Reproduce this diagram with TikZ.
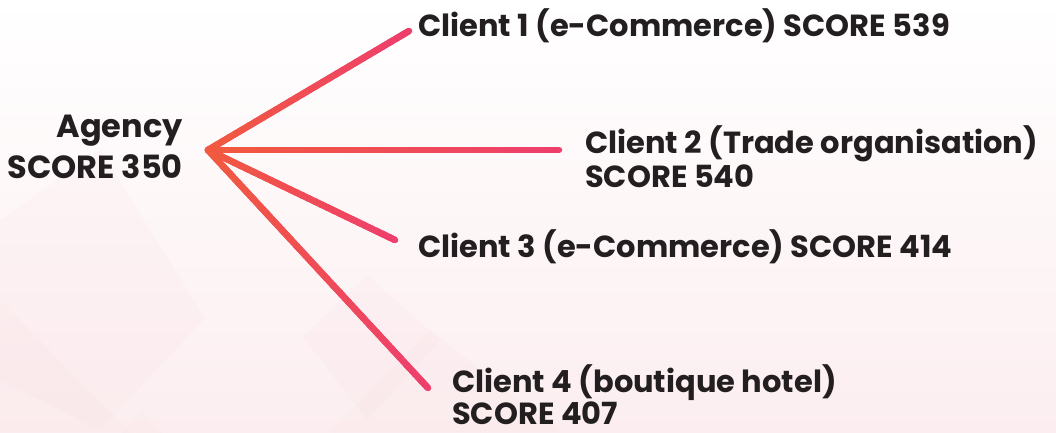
\documentclass[tikz,border=0pt]{standalone}
\usepackage{fontspec}
\setmainfont{Poppins}
\usetikzlibrary{calc}
\definecolor{lineorange}{HTML}{F15A3E}
\definecolor{linepink}{HTML}{EE3F6D}
\definecolor{txt}{HTML}{231F20}
\definecolor{bgpink}{HTML}{FCEEF0}
\definecolor{diapink}{HTML}{F8D8DD}
\tikzset{
  lbl/.style={font=\fontsize{30.5}{34}\selectfont\bfseries, text=txt, inner sep=0pt, align=left},
  diam/.style={fill=diapink, opacity=0.12, draw=none},
}
\begin{document}
\begin{tikzpicture}[x=1pt,y=-1pt]
\useasboundingbox (0,0) rectangle (1056,432);
% background
\fill[top color=white, bottom color=bgpink] (0,0) rectangle (1056,432);
\begin{scope}
\clip (0,0) rectangle (1056,432);
\fill[diam] (0,220) -- (100,150) -- (205,318) -- (100,430) -- (-100,330) -- cycle;
\fill[diam] (303,337) -- (367,275) -- (440,340) -- (367,420) -- cycle;
\fill[diam] (142,412) -- (180,450) -- (142,490) -- (104,450) -- cycle;
\fill[diam] (0,300) -- (130,432) -- (0,432) -- cycle;
\fill[diam] (330,432) -- (430,330) -- (560,432) -- cycle;
\end{scope}
% anchor points
\coordinate (hub) at (208,150);
\coordinate (e1) at (409,31);
\coordinate (e2) at (559,150);
\coordinate (e3) at (395,240);
\coordinate (e4) at (428,388);
% connectors with gradient
\foreach \e in {e1,e2,e3,e4}{
  \draw[line width=6.5pt, line cap=round, linepink] (hub) -- (\e);
  \fill[lineorange] (hub) circle (3.25pt);
  \foreach \i in {0,...,29}{
    \pgfmathsetmacro{\a}{\i/30}
    \pgfmathsetmacro{\b}{min(1,(\i+1.3)/30)}
    \pgfmathsetmacro{\p}{100*(\i+0.5)/30}
    \draw[line width=6.5pt, line cap=butt, color=linepink!\p!lineorange] ($(hub)!\a!(\e)$) -- ($(hub)!\b!(\e)$);
  }
}
% labels (base anchor = baseline of last line)
\node[lbl, align=right, anchor=base east, font=\fontsize{32}{41}\selectfont\bfseries] (agency) at (183,178) {Agency\\SCORE 350};
\node[lbl, anchor=base west] (c1) at (418,36) {Client 1 (e-Commerce) SCORE 539};
\node[lbl, anchor=base west] (c2) at (585,187) {Client 2 (Trade organisation)\\SCORE 540};
\node[lbl, anchor=base west] (c3) at (418,257) {Client 3 (e-Commerce) SCORE 414};
\node[lbl, anchor=base west, text depth=0pt, font=\fontsize{30.5}{32}\selectfont\bfseries] (c4) at (452,424) {Client 4 (boutique hotel)\\SCORE 407};
\end{tikzpicture}
\end{document}
